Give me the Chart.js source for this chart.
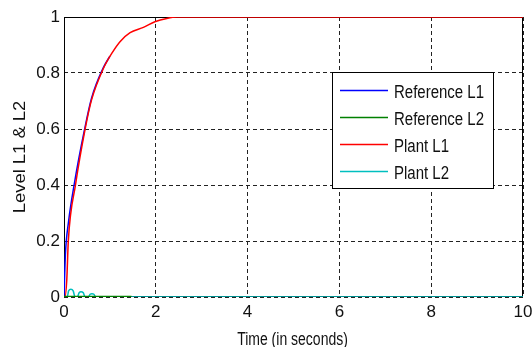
<!DOCTYPE html>
<html>
<head>
<meta charset="utf-8">
<script src="https://cdn.jsdelivr.net/npm/chart.js@4"></script>
<style>
    html, body { margin: 0; padding: 0; background: #fff; }
    #wrap { width: 532px; height: 347px; }
</style>
</head>
<body>
<div id="wrap"><canvas id="levelChart"></canvas></div>
<script>
// Level response of the two tanks
const seriesNames = ["Reference L1", "Reference L2", "Plant L1", "Plant L2"];
const seriesColors = ["#0000ff", "#008000", "#ff0000", "#00bfbf"];

const refL1Time = [0, 0.03, 0.1, 0.22, 0.45, 0.6, 0.86, 1.0];
const refL1Level = [0, 0.15, 0.27, 0.4, 0.6, 0.71, 0.82, 0.86];

const refL2Time = [0, 1.47];
const refL2Level = [0, 0];

const plantL1Time = [0, 0.02, 0.06, 0.094, 0.25, 0.46, 0.6, 0.86, 1.04, 1.22, 1.44, 1.73, 1.98, 2.24, 2.46, 10];
const plantL1Level = [0, 0, 0.06, 0.2, 0.4, 0.6, 0.704, 0.817, 0.87, 0.912, 0.944, 0.963, 0.983, 0.995, 1.0, 1.0];

const plantL2Time = [0, 0.07, 0.1, 0.15, 0.2, 0.24, 0.29, 0.33, 0.37, 0.42, 0.46, 0.53, 0.57, 0.61, 0.65, 0.69, 10];
const plantL2Level = [0, 0, 0.022, 0.028, 0.022, 0, 0, 0.015, 0.019, 0.015, 0, 0, 0.01, 0.012, 0.01, 0, 0];

const xTicks = [0, 2, 4, 6, 8, 10];
const yTicks = [0, 0.2, 0.4, 0.6, 0.8, 1];

const xTitle = "Time (in seconds)";
const yTitle = "Level L1 & L2";

const toPoints = (t, v) => t.map((x, i) => ({ x: x, y: v[i] }));

const FONT = "'Liberation Sans', Arial, sans-serif";
const INK = "#111";

// black box around the plot area, under the curves
const frame = {
    id: "frame",
    beforeDatasetsDraw(chart) {
        const a = chart.chartArea;
        const c = chart.ctx;
        c.save();
        c.strokeStyle = "#000";
        c.lineWidth = 1;
        c.strokeRect(Math.round(a.left) + 0.5, Math.round(a.top) + 0.5,
            Math.round(a.right - a.left) - 1, Math.round(a.bottom - a.top) - 1);
        c.restore();
    }
};

// axis titles, drawn a bit tall like the old figure export
const axisTitles = {
    id: "axisTitles",
    afterDraw(chart) {
        const a = chart.chartArea;
        const c = chart.ctx;
        c.save();
        c.fillStyle = INK;
        c.textAlign = "center";
        c.textBaseline = "alphabetic";

        c.font = "14px " + FONT;
        c.save();
        c.translate((a.left + a.right) / 2 - 1, 345);
        c.scale(1, 1.25);
        c.fillText(xTitle, 0, 0);
        c.restore();

        c.font = "16px " + FONT;
        c.save();
        c.translate(25, (a.top + a.bottom) / 2);
        c.rotate(-Math.PI / 2);
        c.scale(1.15, 1);
        c.fillText(yTitle, 0, 0);
        c.restore();
        c.restore();
    }
};

// legend box inside the plot, upper right
const boxLegend = {
    id: "boxLegend",
    afterDraw(chart) {
        const c = chart.ctx;
        const x0 = 332, y0 = 72, w = 161, h = 116;
        c.save();
        c.fillStyle = "#fff";
        c.fillRect(x0, y0, w, h);
        c.strokeStyle = "#000";
        c.lineWidth = 1;
        c.strokeRect(x0 + 0.5, y0 + 0.5, w, h);
        c.font = "15px " + FONT;
        c.textBaseline = "alphabetic";
        c.fillStyle = INK;
        seriesNames.forEach((name, i) => {
            const y = Math.round(90 + i * 26.9);
            c.strokeStyle = seriesColors[i];
            c.lineWidth = 1.5;
            c.beginPath();
            c.moveTo(340, y + 0.5);
            c.lineTo(388, y + 0.5);
            c.stroke();
            c.save();
            c.translate(394, y + 7.5);
            c.scale(1, 1.25);
            c.fillText(name, 0, 0);
            c.restore();
        });
        c.restore();
    }
};

const data = {
    datasets: [
        { label: seriesNames[0], data: toPoints(refL1Time, refL1Level), borderColor: seriesColors[0], borderWidth: 1.5, order: 3 },
        { label: seriesNames[1], data: toPoints(refL2Time, refL2Level), borderColor: seriesColors[1], borderWidth: 2.5, order: 0 },
        { label: seriesNames[2], data: toPoints(plantL1Time, plantL1Level), borderColor: seriesColors[2], borderWidth: 1.5, order: 1 },
        { label: seriesNames[3], data: toPoints(plantL2Time, plantL2Level), borderColor: seriesColors[3], borderWidth: 1.5, order: 2 }
    ]
};

const options = {
    responsive: true,
    maintainAspectRatio: false,
    animation: false,
    layout: { padding: { top: 17, right: 0, left: 0, bottom: 0 } },
    elements: {
        point: { radius: 0 },
        line: { cubicInterpolationMode: "monotone", fill: false }
    },
    plugins: {
        legend: { display: false },
        tooltip: { enabled: false }
    },
    scales: {
        x: {
            type: "linear",
            min: 0,
            max: 10,
            afterFit: (s) => {
                s.height = 50;
                s.paddingLeft = 0;
                s.paddingRight = 9;
            },
            afterBuildTicks: (s) => { s.ticks = xTicks.map(v => ({ value: v })); },
            ticks: { color: INK, padding: 5, font: { family: FONT, size: 17 }, callback: (v) => String(v) },
            grid: { color: "#222", lineWidth: 1, drawTicks: false },
            border: { display: false, dash: [4, 3] }
        },
        y: {
            min: 0,
            max: 1,
            afterFit: (s) => { s.width = 64; },
            afterBuildTicks: (s) => { s.ticks = yTicks.map(v => ({ value: v })); },
            ticks: { color: INK, padding: 4, font: { family: FONT, size: 17 }, callback: (v) => String(v) },
            grid: { color: "#222", lineWidth: 1, drawTicks: false },
            border: { display: false, dash: [4, 3] }
        }
    }
};

new Chart(document.getElementById("levelChart").getContext("2d"), {
    type: "line",
    data: data,
    options: options,
    plugins: [frame, axisTitles, boxLegend]
});
</script>
</body>
</html>
